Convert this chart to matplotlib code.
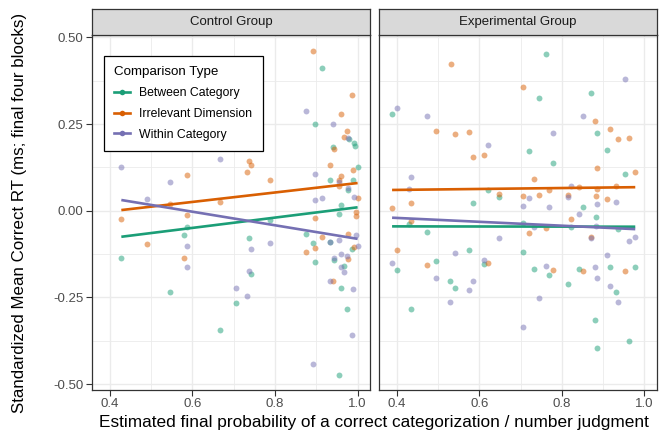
import matplotlib

matplotlib.use("Agg")
import matplotlib.pyplot as plt
from matplotlib.lines import Line2D
from matplotlib.ticker import MultipleLocator

# Panel titles and groups
panels = ["Control Group", "Experimental Group"]
groups = ["Between Category", "Irrelevant Dimension", "Within Category"]
colors = ["#1B9E77", "#D95F02", "#7570B3"]

# Control group points
ctrl_between_x = [0.915, 0.898, 0.978, 0.991, 0.994, 0.940, 1.000, 0.933, 0.989, 0.976, 0.960,
                  0.587, 0.579, 0.428, 0.545, 0.705, 0.667, 0.737, 0.742, 0.787, 0.955, 0.874,
                  0.891, 0.933, 0.987, 0.898, 0.943, 0.968, 0.959, 0.975, 0.954]
ctrl_between_y = [0.412, 0.251, 0.207, 0.196, 0.188, 0.183, 0.125, 0.090, 0.088, 0.060, 0.016,
                  -0.048, -0.071, -0.136, -0.235, -0.266, -0.344, -0.079, -0.181, -0.027, -0.010, -0.068,
                  -0.094, -0.090, -0.109, -0.147, -0.142, -0.160, -0.224, -0.283, -0.473]

ctrl_irrel_x = [0.891, 0.986, 0.959, 0.975, 0.967, 0.943, 0.737, 0.742, 0.733, 0.587, 0.787,
                0.933, 0.989, 0.960, 0.954, 0.956, 0.545, 0.667, 1.000,
                0.428, 0.586, 0.491, 0.579, 0.897, 0.995, 0.995, 0.915, 0.898, 0.874, 0.976,
                0.991, 0.977, 0.941]
ctrl_irrel_y = [0.460, 0.333, 0.279, 0.231, 0.212, 0.177, 0.144, 0.131, 0.112, 0.104, 0.088,
                0.131, 0.117, 0.099, 0.090, 0.072, 0.019, 0.026, 0.037,
                -0.025, -0.013, -0.097, -0.137, -0.021, -0.004, -0.015, -0.077, -0.107, -0.120, -0.068,
                -0.104, -0.139, -0.202]

ctrl_within_x = [0.874, 0.940, 0.976, 0.428, 0.667, 0.545, 0.897, 0.954, 0.976, 0.491, 0.897,
                 0.915, 0.991,
                 0.587, 0.586, 0.705, 0.733, 0.742, 0.787, 0.737, 0.933, 0.955, 0.995, 1.000,
                 0.943, 0.960, 0.975, 0.959, 0.968, 0.933, 0.989, 0.987, 0.891]
ctrl_within_y = [0.287, 0.250, 0.209, 0.125, 0.148, 0.083, 0.105, 0.083, 0.067, 0.034, 0.031,
                 0.036, 0.039,
                 -0.103, -0.163, -0.224, -0.245, -0.110, -0.092, -0.175, -0.090, -0.085, -0.071, -0.102,
                 -0.136, -0.125, -0.130, -0.161, -0.177, -0.202, -0.225, -0.357, -0.442]

# Experimental group points
exp_between_x = [0.761, 0.870, 0.744, 0.388, 0.886, 0.720, 0.778, 0.910, 0.954, 0.621, 0.647,
                 0.585, 0.852,
                 0.882, 0.429, 0.705, 0.822, 0.936, 0.472, 0.705, 0.575, 0.401, 0.495, 0.611,
                 0.732, 0.768, 0.841, 0.916, 0.978, 0.529, 0.540, 0.815, 0.932, 0.433, 0.880,
                 0.886, 0.963]
exp_between_y = [0.451, 0.341, 0.325, 0.280, 0.224, 0.172, 0.138, 0.174, 0.105, 0.060, 0.040,
                 0.023, 0.010,
                 -0.017, -0.037, -0.035, -0.048, -0.054, -0.062, -0.119, -0.114, -0.171, -0.144, -0.153,
                 -0.167, -0.186, -0.167, -0.163, -0.161, -0.204, -0.222, -0.212, -0.233, -0.284, -0.316,
                 -0.396, -0.375]

exp_irrel_x = [0.530, 0.705, 0.880, 0.495, 0.540, 0.575, 0.917, 0.936, 0.963, 0.585, 0.611,
               0.886, 0.978, 0.732, 0.647, 0.433, 0.388, 0.705, 0.744, 0.768, 0.815, 0.841,
               0.886, 0.883, 0.910, 0.932,
               0.433, 0.761, 0.822, 0.720, 0.871, 0.401, 0.472, 0.621, 0.778, 0.852, 0.954]
exp_irrel_y = [0.422, 0.356, 0.259, 0.230, 0.221, 0.227, 0.235, 0.207, 0.209, 0.155, 0.160,
               0.124, 0.111, 0.091, 0.048, 0.021, 0.009, 0.043, 0.046, 0.060, 0.046, 0.068,
               0.062, 0.042, 0.034, 0.072,
               -0.029, -0.049, -0.024, -0.064, -0.076, -0.114, -0.155, -0.150, -0.172, -0.173, -0.175]

exp_within_x = [0.953, 0.401, 0.472, 0.852, 0.778, 0.621, 0.433, 0.429, 0.705, 0.720, 0.768,
                0.822, 0.815, 0.886, 0.932,
                0.841, 0.732, 0.882, 0.871, 0.647, 0.963, 0.978, 0.540, 0.910, 0.388, 0.611,
                0.761, 0.880, 0.886, 0.495, 0.585, 0.575, 0.916, 0.529, 0.744, 0.936, 0.705]
exp_within_y = [0.380, 0.295, 0.273, 0.273, 0.224, 0.189, 0.098, 0.063, 0.013, 0.036, 0.011,
                0.071, 0.040, 0.019, 0.026,
                -0.008, -0.046, -0.043, -0.079, -0.079, -0.088, -0.077, -0.123, -0.128, -0.151, -0.141,
                -0.159, -0.161, -0.195, -0.193, -0.203, -0.229, -0.217, -0.264, -0.251, -0.264, -0.335]

# Fitted linear trends (values at the ends of each panel's x range)
ctrl_fit_x = [0.428, 1.000]
ctrl_fit_between = [-0.075, 0.010]
ctrl_fit_irrel = [0.002, 0.080]
ctrl_fit_within = [0.031, -0.081]
exp_fit_x = [0.388, 0.978]
exp_fit_between = [-0.045, -0.046]
exp_fit_irrel = [0.060, 0.068]
exp_fit_within = [-0.020, -0.053]

panel_points = [
    [(ctrl_between_x, ctrl_between_y), (ctrl_irrel_x, ctrl_irrel_y), (ctrl_within_x, ctrl_within_y)],
    [(exp_between_x, exp_between_y), (exp_irrel_x, exp_irrel_y), (exp_within_x, exp_within_y)],
]
panel_fits = [
    (ctrl_fit_x, [ctrl_fit_between, ctrl_fit_irrel, ctrl_fit_within]),
    (exp_fit_x, [exp_fit_between, exp_fit_irrel, exp_fit_within]),
]

plt.rcParams["font.family"] = ["Liberation Sans", "DejaVu Sans"]

W, H = 662, 434
fig = plt.figure(figsize=(W / 100, H / 100), dpi=100)

top, bottom = 35, 390
strip_top = 9
lefts = [(92, 370), (379.3, 656.7)]
dark = "#333333"

axes = []
for i, (x0, x1) in enumerate(lefts):
    ax = fig.add_axes([x0 / W, (H - bottom) / H, (x1 - x0) / W, (bottom - top) / H])
    ax.set_xlim(0.357, 1.030)
    ax.set_ylim(-0.517, 0.507)
    ax.xaxis.set_major_locator(MultipleLocator(0.2))
    ax.xaxis.set_minor_locator(MultipleLocator(0.1))
    ax.yaxis.set_major_locator(MultipleLocator(0.25))
    ax.yaxis.set_minor_locator(MultipleLocator(0.125))
    ax.grid(which="major", color="#EBEBEB", lw=1.0)
    ax.grid(which="minor", color="#EBEBEB", lw=0.6)
    ax.set_axisbelow(True)
    for s in ax.spines.values():
        s.set_color(dark)
        s.set_linewidth(0.9)
    ax.tick_params(which="major", length=4, width=0.8, color=dark,
                   labelsize=9.5, labelcolor="#4D4D4D", pad=2)
    ax.tick_params(which="minor", length=0)
    ax.set_xticks([0.4, 0.6, 0.8, 1.0])
    ax.set_xticklabels(["0.4", "0.6", "0.8", "1.0"])
    if i == 0:
        ax.set_yticks([-0.5, -0.25, 0.0, 0.25, 0.5])
        ax.set_yticklabels(["-0.50", "-0.25", "0.00", "0.25", "0.50"])
    else:
        ax.tick_params(axis="y", which="both", left=False, labelleft=False)

    for (px, py), c in zip(panel_points[i], colors):
        ax.scatter(px, py, s=18, color=c, alpha=0.5, linewidths=0, zorder=2)
    fx, fys = panel_fits[i]
    for fy, c in zip(fys, colors):
        ax.plot(fx, fy, color=c, lw=1.9, zorder=3, solid_capstyle="butt")

    # facet strip
    sax = fig.add_axes([x0 / W, (H - top) / H, (x1 - x0) / W, (top - strip_top) / H])
    sax.set_facecolor("#D9D9D9")
    sax.set_xticks([])
    sax.set_yticks([])
    for s in sax.spines.values():
        s.set_color(dark)
        s.set_linewidth(0.9)
    sax.text(0.5, 0.5, panels[i], ha="center", va="center", fontsize=9.5, color="#1A1A1A",
             transform=sax.transAxes)
    axes.append(ax)

handles = [Line2D([], [], color=c, lw=1.9, marker="o", markersize=4,
                  markerfacecolor=c, markeredgewidth=0, alpha=1.0) for c in colors]
leg = axes[0].legend(handles, groups, title="Comparison Type", loc="upper left",
                     bbox_to_anchor=(0.043, 0.941), borderaxespad=0, frameon=True,
                     fancybox=False, edgecolor="black", framealpha=1, fontsize=8.8,
                     title_fontsize=9.6, handlelength=1.3, handletextpad=0.75,
                     borderpad=0.85, labelspacing=0.72, alignment="left")
leg.get_frame().set_linewidth(0.9)
leg.set_zorder(10)

fig.text((92 + 656.7) / 2 / W, 1 - 423 / H,
         "Estimated final probability of a correct categorization / number judgment",
         ha="center", va="center", fontsize=12.4)
fig.text(20 / W, 1 - (top + bottom) / 2 / H,
         "Standardized Mean Correct RT (ms; final four blocks)",
         ha="center", va="center", rotation=90, fontsize=12.2)

fig.savefig("out.png", dpi=100)
